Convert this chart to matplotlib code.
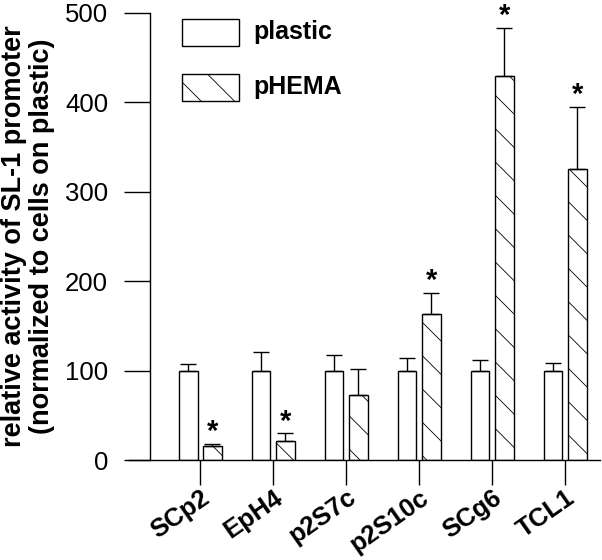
import matplotlib
matplotlib.use("Agg")
import matplotlib.pyplot as plt
import numpy as np
from matplotlib.patches import Rectangle

categories = ["SCp2", "EpH4", "p2S7c", "p2S10c", "SCg6", "TCL1"]
plastic = [100, 100, 100, 100, 100, 100]
plastic_err = [8, 21, 18, 14, 12, 9]
phema = [16, 22, 73, 163, 430, 326]
phema_err = [2, 8, 29, 24, 53, 69]
significant = [True, True, False, True, True, True]
yticks = [0, 100, 200, 300, 400, 500]

plt.rcParams['font.family'] = ['Liberation Sans', 'DejaVu Sans']
plt.rcParams['hatch.linewidth'] = 0.6
plt.rcParams['hatch.color'] = '#444444'

fig = plt.figure(figsize=(6.02, 5.6), dpi=100)
ax = fig.add_axes([0.249, 0.178, 0.748, 0.799])

x = np.arange(len(categories))
off = 0.165
w = 0.255
ax.bar(x - off, plastic, width=w, color='white', edgecolor='black', linewidth=1.0)
ax.bar(x + off, phema, width=w, color='white', edgecolor='black', linewidth=1.0, hatch='\\')
ax.errorbar(x - off, plastic, yerr=[np.zeros(len(x)), plastic_err], fmt='none',
            ecolor='black', elinewidth=1.0, capsize=6, capthick=1.0)
ax.errorbar(x + off, phema, yerr=[np.zeros(len(x)), phema_err], fmt='none',
            ecolor='black', elinewidth=1.0, capsize=6, capthick=1.0)

for i, s in enumerate(significant):
    if s:
        ax.annotate('*', xy=(x[i] + off, phema[i] + phema_err[i]), xytext=(0, -1.5),
                    textcoords='offset points', ha='center', va='bottom',
                    fontsize=21, fontweight='bold')

ax.set_xlim(-0.69, 5.48)
ax.set_ylim(0, 500)
ax.set_yticks(yticks)
ax.set_yticklabels([str(t) for t in yticks], fontsize=18.5)
ax.set_xticks(x)
ax.set_xticklabels(categories, rotation=35, ha='right', rotation_mode='anchor',
                   fontsize=18.5, fontweight='bold')
ax.tick_params(axis='y', direction='out', length=19, width=1, pad=11)
ax.tick_params(axis='x', direction='out', length=18, width=1, pad=0)
for sp in ['top', 'right']:
    ax.spines[sp].set_visible(False)
ax.spines['left'].set_linewidth(1)
ax.spines['bottom'].set_linewidth(1)
ax.spines['bottom'].set_bounds(-0.98, 5.48)
ax.spines['bottom'].set_clip_on(False)

ax.set_ylabel("relative activity of SL-1 promoter\n(normalized to cells on plastic)",
              fontsize=19.5, fontweight='bold', labelpad=7, linespacing=1.1)

# legend drawn manually
for j, (lab, h) in enumerate([("plastic", None), ("pHEMA", '\\')]):
    y0 = 1 - (45.7 + j * 55) / 560
    r = Rectangle((181.7 / 602, y0), 57 / 602, 27 / 560, transform=fig.transFigure,
                  facecolor='white', edgecolor='black', linewidth=1.0, hatch=h)
    fig.add_artist(r)
    fig.text(253 / 602, y0 + 13.5 / 560, lab, fontsize=18, fontweight='bold',
             va='center', ha='left')

fig.savefig("out.png", dpi=100)
